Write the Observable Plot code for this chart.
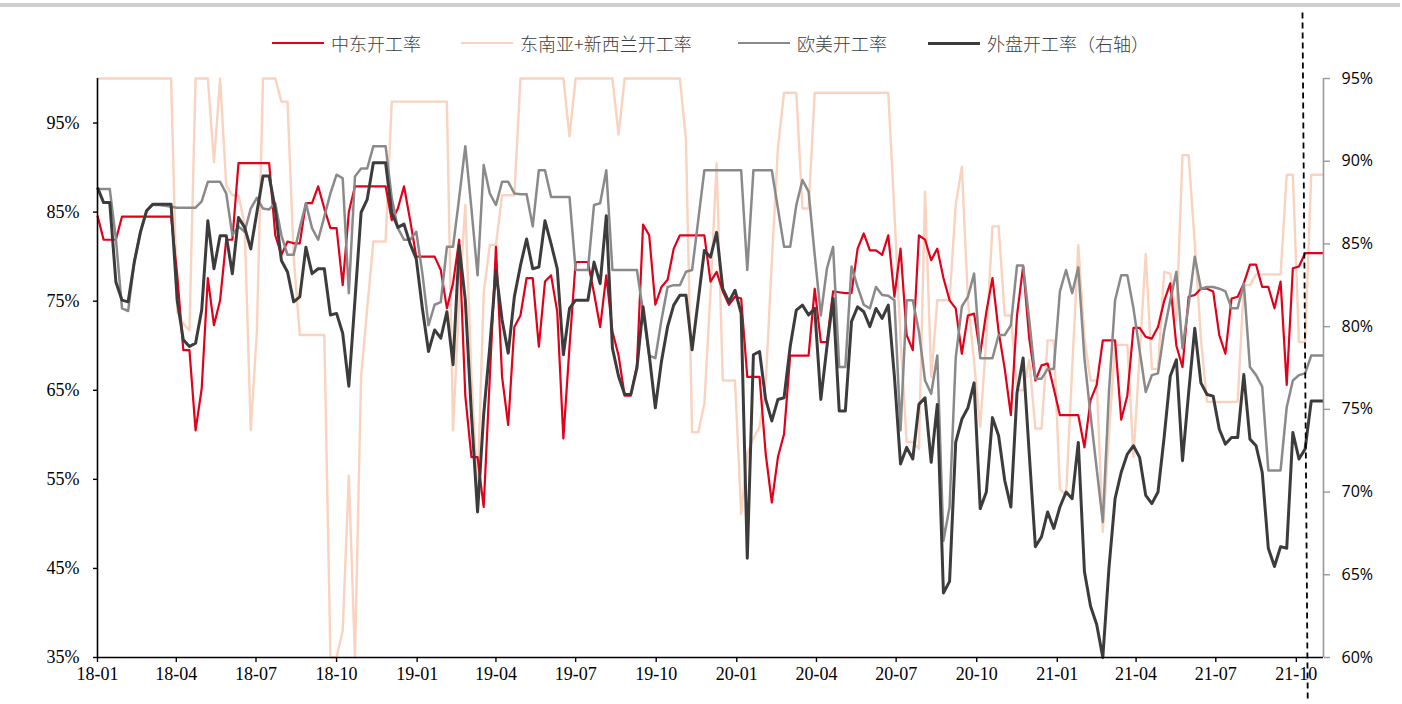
<!DOCTYPE html>
<html>
<head>
<meta charset="utf-8">
<script src="https://cdn.jsdelivr.net/npm/d3@7"></script>
<script src="https://cdn.jsdelivr.net/npm/@observablehq/plot@0.6"></script>
<style>
  body { margin: 0; background: #fff; }
  #wrap { position: relative; width: 1402px; height: 704px; overflow: hidden; background: #fff; }
  #topbar { position: absolute; left: 0; top: 3px; width: 1400px; height: 4px; background: #cfcfcf; }
  #chart { position: absolute; left: 0; top: 0; }
  .lg { position: absolute; top: 31px; height: 24px; display: flex; align-items: center;
        font-family: "Noto Sans CJK SC", sans-serif; font-size: 18px; font-weight: 300; color: #404040; white-space: nowrap; }
  .lg .sw { display: inline-block; width: 52px; margin-right: 7px; }
</style>
</head>
<body>
<div id="wrap">
  <div id="topbar"></div>
  <div id="chart"></div>
  <div id="legend"></div>
</div>
<script>
// ---------------- data (weekly, first week 2018-01-01) ----------------
const seriesNames = ["中东开工率", "东南亚+新西兰开工率", "欧美开工率", "外盘开工率（右轴）"];

// 中东开工率 (left axis, %)
const middleEast = [
  84.6, 81.9, 81.9, 81.9, 84.5, 84.5, 84.5, 84.5, 84.5, 84.5,
  84.5, 84.5, 84.5, 78, 69.5, 69.5, 60.5, 65.2, 77.6, 72.3,
  75.1, 81.9, 81.9, 90.5, 90.5, 90.5, 90.5, 90.5, 90.5, 82.4,
  80.2, 81.7, 81.5, 81.5, 86.0, 86.0, 87.9, 85.4, 83.2, 83.2,
  76.8, 85, 87.9, 87.9, 87.9, 87.9, 87.9, 87.9, 84.1, 85.4,
  87.9, 84.1, 80.0, 80.0, 80.0, 80.0, 78.5, 74.2, 77, 81.9,
  64.4, 57.5, 57.5, 51.9, 66.5, 81.1, 66.5, 61.1, 72.1, 73.4,
  77.6, 77.6, 69.9, 77.2, 77.9, 73.8, 59.6, 69.9, 79.4, 79.4,
  79.4, 75.9, 72.1, 77.9, 71.6, 68.9, 64.4, 64.4, 67.8, 83.6,
  82.4, 74.6, 76.6, 77.4, 80.9, 82.4, 82.4, 82.4, 82.4, 82.4,
  77.2, 78.3, 76.1, 74.6, 75.5, 75.3, 66.5, 66.5, 66.5, 57.9,
  52.4, 57.5, 60.1, 68.9, 68.9, 68.9, 68.9, 76.4, 70.4, 70.4,
  76.1, 76.0, 75.9, 75.9, 80.9, 82.6, 80.7, 80.7, 80.2, 82.4,
  75.5, 80.9, 71.2, 69.5, 82.4, 81.9, 79.6, 80.9, 77.6, 75.1,
  74.2, 69.1, 73.4, 73.6, 69.1, 73.8, 77.6, 71.6, 67.4, 62.2,
  73.4, 78.9, 70.8, 66.1, 67.8, 68.0, 65.2, 62.2, 62.2, 62.2,
  62.2, 58.6, 63.9, 65.6, 70.6, 70.6, 70.6, 61.7, 64.4, 72.0,
  72.0, 71.0, 70.8, 72.1, 75, 77.0, 70, 67.6, 75.5, 75.7,
  76.4, 76.4, 76.1, 71.2, 69.1, 75.3, 75.5, 77.0, 79.1, 79.1,
  76.6, 76.6, 74.2, 77.2, 65.6, 78.7, 78.9, 80.4, 80.4, 80.4,
  80.4
];

// 东南亚+新西兰开工率 (left axis, %)
const southeastAsia = [
  100, 100, 100, 100, 100, 100, 100, 100, 100, 100,
  100, 100, 100, 73.8, 72.5, 71.7, 100, 100, 100, 90.6,
  100, 88, 86.9, 86.9, 83.6, 60.5, 71.6, 100, 100, 100,
  97.4, 97.4, 80, 71.2, 71.2, 71.2, 71.2, 71.2, 35, 35,
  38, 55.4, 35, 66.5, 74.2, 81.7, 81.7, 81.7, 97.4, 97.4,
  97.4, 97.4, 97.4, 97.4, 97.4, 97.4, 97.4, 97.4, 60.5, 75,
  85.8, 66.5, 53.6, 75.9, 81.3, 81.3, 86.9, 86.9, 86.9, 100,
  100, 100, 100, 100, 100, 100, 100, 93.5, 100, 100,
  100, 100, 100, 100, 100, 93.7, 100, 100, 100, 100,
  100, 100, 100, 100, 100, 100, 93.1, 60.3, 60.3, 63.5,
  76, 90.5, 66.1, 66.1, 66.1, 51.1, 57.9, 59.6, 60.9, 65.6,
  79.4, 92.2, 98.4, 98.4, 98.4, 85.4, 85.4, 98.4, 98.4, 98.4,
  98.4, 98.4, 98.4, 98.4, 98.4, 98.4, 98.4, 98.4, 98.4, 98.4,
  85, 70.8, 59.2, 59.2, 58.4, 87.3, 66.5, 75.1, 75.1, 75.1,
  85.8, 90.1, 75.1, 68.2, 60.9, 70.8, 83.4, 83.4, 73.4, 73.4,
  65.0, 65.0, 68.4, 60.7, 60.7, 70.6, 70.6, 53.9, 53.2, 67.4,
  81.3, 70.8, 66.1, 66.1, 49.1, 60, 70.1, 70.1, 70.1, 57.5,
  68.9, 80.3, 67.4, 67.4, 78.3, 78.1, 72.9, 91.4, 91.4, 81.5,
  70.8, 63.7, 63.7, 63.7, 63.7, 63.7, 63.7, 76.8, 76.8, 78.0,
  78.0, 78.0, 78.0, 78.0, 89.2, 89.2, 70.4, 70.4, 89.2, 89.2,
  89.2
];

// 欧美开工率 (left axis, %)
const euroAmerica = [
  87.6, 87.6, 87.6, 82, 74.2, 73.9, 79.4, 82.8, 85.1, 85.8,
  85.8, 85.7, 85.6, 85.5, 85.5, 85.5, 85.5, 86.2, 88.4, 88.4,
  88.4, 87.1, 82.4, 83.4, 82.8, 85.4, 86.6, 85.4, 85.3, 86.0,
  82.4, 80.2, 80.2, 83.2, 86.0, 83.2, 81.9, 84.5, 87.1, 89.2,
  88.8, 75.9, 89.0, 89.9, 89.9, 92.4, 92.4, 92.4, 86.6, 83.2,
  81.9, 81.9, 82.8, 78.1, 72.3, 74.6, 74.9, 81.1, 81.1, 86.6,
  92.4, 85.4, 77.9, 90.3, 87.1, 85.8, 88.4, 88.4, 87.1, 87.0,
  87.0, 83.4, 89.7, 89.7, 86.7, 86.7, 86.7, 86.7, 78.5, 78.5,
  78.5, 85.8, 86.0, 89.7, 78.5, 78.5, 78.5, 78.5, 78.5, 73.8,
  68.9, 68.6, 72.9, 76.6, 76.8, 76.8, 78.3, 78.5, 84.1, 89.7,
  89.7, 89.7, 89.7, 89.7, 89.7, 89.7, 78.5, 89.7, 89.7, 89.7,
  89.7, 85.4, 81.1, 81.1, 85.8, 88.6, 87.3, 80.2, 73.4, 78.7,
  81.1, 67.6, 67.6, 78.9, 76.6, 74.6, 74.2, 76.6, 75.7, 75.6,
  75.1, 60.5, 75.1, 75.1, 71.6, 66.1, 64.6, 68.9, 48.1, 51.9,
  68.6, 74.4, 75.5, 78.1, 68.6, 68.6, 68.6, 71.2, 71.2, 72.3,
  79.0, 79.0, 72.9, 66.3, 66.3, 67.4, 67.4, 76.1, 78.5, 75.9,
  78.8, 68.6, 62.2, 56.2, 50.2, 64.8, 75.1, 77.9, 77.9, 74.2,
  69.5, 64.8, 66.7, 66.9, 71.6, 75.1, 78.3, 69.7, 74.6, 80.0,
  76.4, 76.6, 76.6, 76.4, 76.1, 74.2, 74.2, 77.0, 67.6, 66.7,
  65.4, 56.0, 56.0, 56.0, 63.1, 66.1, 66.7, 66.9, 68.9, 68.9,
  68.9
];

// 外盘开工率 (right axis, %)
const overseas = [
  88.4, 87.5, 87.5, 82.7, 81.6, 81.5, 83.9, 85.7, 87.0, 87.4,
  87.4, 87.4, 87.4, 81.6, 79.2, 78.8, 79.0, 81.0, 86.4, 83.5,
  85.5, 85.5, 83.2, 86.6, 86.0, 84.7, 86.9, 89.1, 89.1, 87.1,
  84.0, 83.3, 81.5, 81.8, 84.8, 83.2, 83.5, 83.5, 80.7, 80.8,
  79.6, 76.4, 81.6, 86.9, 87.7, 89.9, 89.9, 89.9, 86.9, 86.0,
  86.2, 85.0, 84.1, 81.1, 78.5, 79.8, 79.3, 80.9, 77.7, 84.9,
  81.6, 74.7, 68.8, 74.7, 78.8, 83.4, 80.4, 78.4, 81.8, 83.7,
  85.3, 83.5, 83.6, 86.4, 85.0, 83.5, 78.3, 81.1, 81.6, 81.6,
  81.6, 83.9, 82.6, 86.7, 78.7, 77.0, 75.9, 75.9, 77.5, 81.2,
  78.3, 75.1, 77.9, 80.0, 81.3, 81.9, 81.9, 78.6, 81.6, 84.6,
  84.2, 85.7, 82.3, 81.5, 82.2, 80.8, 66.0, 78.3, 78.5, 75.6,
  74.3, 75.6, 75.7, 78.8, 81.0, 81.3, 80.7, 81.1, 75.6, 78.8,
  81.7, 74.9, 74.9, 80.3, 81.2, 80.9, 80.0, 81.1, 80.5, 81.3,
  77.0, 71.7, 72.7, 72.0, 75.3, 75.7, 71.8, 75.3, 63.9, 64.6,
  73.0, 74.4, 75.1, 76.6, 69.0, 70.0, 74.5, 73.4, 70.7, 69.1,
  76.0, 78.1, 72.3, 66.7, 67.3, 68.8, 67.8, 69.1, 70.0, 69.6,
  73.0, 65.2, 63.1, 62.0, 60.0, 65.4, 69.6, 71.2, 72.3, 72.8,
  72.1, 69.8, 69.3, 70.0, 73.3, 77.0, 78.0, 71.9, 76.0, 79.9,
  76.6, 75.9, 75.8, 73.8, 72.9, 73.3, 73.3, 77.1, 73.2, 72.8,
  71.2, 66.6, 65.5, 66.7, 66.6, 73.6, 72.0, 72.6, 75.5, 75.5,
  75.5
];

const leftTicks = [35, 45, 55, 65, 75, 85, 95];
const rightTicks = [60, 65, 70, 75, 80, 85, 90, 95];
const leftDomain = [35, 100];
const rightDomain = [60, 95];
const markerDates = [new Date(Date.UTC(2021, 9, 8)), new Date(Date.UTC(2021, 9, 14))];

// ---------------- derived ----------------
const WEEK = 7 * 864e5;
const start = Date.UTC(2018, 0, 1);
const dates = middleEast.map((_, i) => new Date(start + i * WEEK));
const last = dates[dates.length - 1];

const k = (leftDomain[1] - leftDomain[0]) / (rightDomain[1] - rightDomain[0]);
const toLeft = v => leftDomain[0] + (v - rightDomain[0]) * k;
const fromLeft = v => rightDomain[0] + (v - leftDomain[0]) / k;

const colors = ["#e2001a", "#f9d3bf", "#8a8a8a", "#3c3c3c"];
const widths = [2.2, 2.4, 2.5, 3];

const rows = (vals, right) => vals.map((v, i) => ({date: dates[i], v: right ? toLeft(v) : v}));
const tables = [rows(middleEast), rows(southeastAsia), rows(euroAmerica), rows(overseas, true)];

// SVG frame
const W = 1402, H = 704;
const mTop = 78, mBottom = 47, mLeft = 97, mRight = 79;
// y values at the very top / bottom of the dashed marker (it runs past the frame)
const yPerPx = (leftDomain[1] - leftDomain[0]) / (H - mTop - mBottom);
const markerTop = leftDomain[1] + (mTop - 12) * yPerPx;
const markerBottom = leftDomain[0] - (mBottom - 4) * yPerPx;

const serif = "'Liberation Serif', 'Times New Roman', serif";
const drawOrder = [1, 0, 2, 3];

const chart = Plot.plot({
  width: W,
  height: H,
  marginTop: mTop,
  marginBottom: mBottom,
  marginLeft: mLeft,
  marginRight: mRight,
  style: {background: "transparent", color: "#000"},
  x: {type: "utc", domain: [dates[0], last]},
  y: {domain: leftDomain},
  marks: [
    ...drawOrder.map(i => Plot.line(tables[i], {
      x: "date", y: "v", stroke: colors[i], strokeWidth: widths[i],
      strokeLinejoin: "round", strokeLinecap: "butt"
    })),
    // axis lines
    Plot.ruleX([dates[0]], {y1: leftDomain[0], y2: leftDomain[1], stroke: "#000", strokeWidth: 1.6}),
    Plot.ruleX([last], {y1: leftDomain[0], y2: leftDomain[1], stroke: "#999", strokeWidth: 1.6}),
    Plot.ruleY([leftDomain[0]], {x1: dates[0], x2: last, stroke: "#000", strokeWidth: 1.6}),
    // dashed marker
    Plot.link([markerDates], {
      x1: d => d[0], x2: d => d[1], y1: () => markerTop, y2: () => markerBottom,
      stroke: "#000", strokeWidth: 1.8, strokeDasharray: "6,4"
    }),
    // axes
    Plot.axisX(d3.utcMonth.every(3).range(dates[0], new Date(+last + 1)), {
      tickFormat: d3.utcFormat("%y-%m"), tickSize: 5, tickPadding: 5,
      fontSize: 18, fontFamily: serif, stroke: "#000", strokeWidth: 1.4, label: null
    }),
    Plot.axisY(leftTicks, {
      anchor: "left", tickFormat: d => d + "%", tickSize: 4, tickPadding: 14,
      fontSize: 18, fontFamily: serif, stroke: "#000", strokeWidth: 1.4, label: null
    }),
    Plot.axisY(rightTicks.map(toLeft), {
      anchor: "right", tickFormat: d => Math.round(fromLeft(d)) + "%", tickSize: 6, tickPadding: 12,
      fontSize: 16, fontFamily: "'Open Sans', sans-serif", stroke: "#999", strokeWidth: 1.4, label: null
    })
  ]
});
document.getElementById("chart").appendChild(chart);

// legend
const legendX = [272, 461, 738, 928];
const legend = document.getElementById("legend");
seriesNames.forEach((name, i) => {
  const item = document.createElement("div");
  item.className = "lg";
  item.style.left = legendX[i] + "px";
  const sw = document.createElement("span");
  sw.className = "sw";
  sw.style.borderTop = `${Math.max(2.6, widths[i])}px solid ${colors[i]}`;
  item.appendChild(sw);
  const t = document.createElement("span");
  t.textContent = name;
  item.appendChild(t);
  legend.appendChild(item);
});
</script>
</body>
</html>
